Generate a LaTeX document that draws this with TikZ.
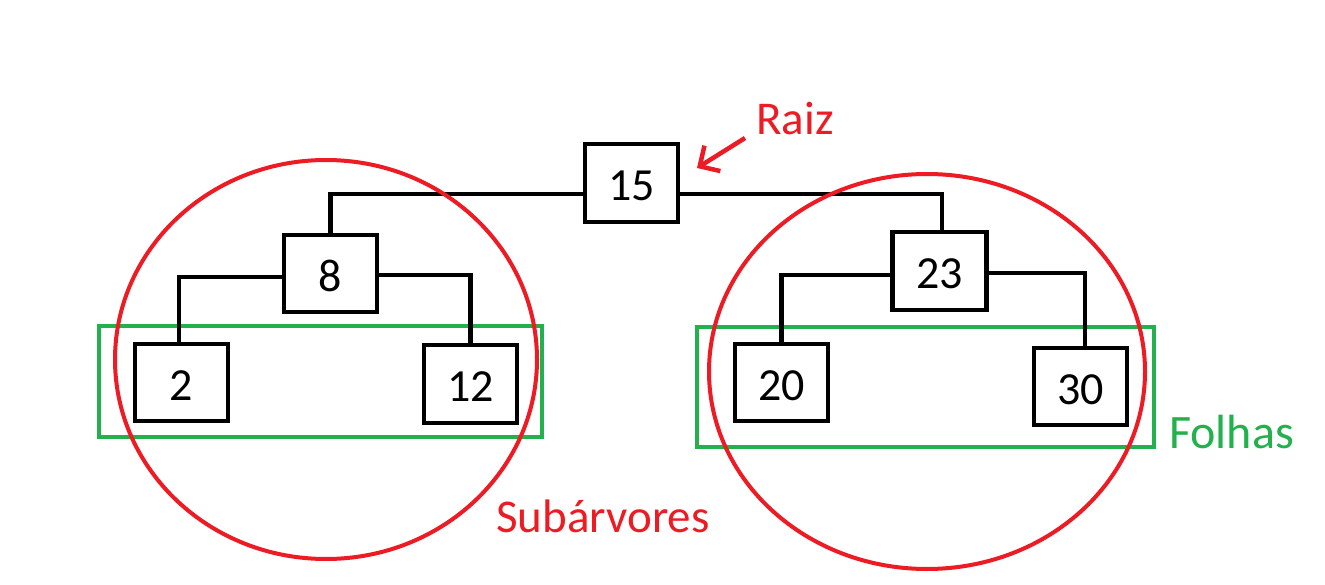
\documentclass[tikz,border=0pt]{standalone}
\usepackage{fontspec}
\setmainfont{Carlito}
\usetikzlibrary{arrows.meta,shapes.geometric}
\definecolor{pred}{HTML}{ED1C24}
\definecolor{pgreen}{HTML}{22B14C}
\begin{document}
\begin{tikzpicture}[x=1pt,y=-1pt,
  numbox/.style={draw=black,line width=4.5pt,inner sep=0pt,minimum width=93pt,minimum height=78pt,text height=35pt,text depth=0pt,font=\fontsize{46}{52}\selectfont},
  edge/.style={draw=black,line width=4.5pt},
  ring/.style={draw=pred,line width=4pt,ellipse,inner sep=0pt},
  leafbox/.style={draw=pgreen,line width=4.5pt,inner sep=0pt},
  lbl/.style={anchor=base west,inner sep=0pt,font=\fontsize{47}{54}\selectfont},
  pointer/.style={draw=pred,line width=4.5pt,-{Straight Barb[length=15pt,width=30pt]}}]
\useasboundingbox[fill=white] (0,0) rectangle (1325,585);
% leaf groups
\node[leafbox,minimum width=443pt,minimum height=111pt] (leavesL) at (320.5,381.5) {};
\node[leafbox,minimum width=457pt,minimum height=120pt] (leavesR) at (925.5,387) {};
% nodes
\node[numbox] (n15) at (631.5,183) {15};
\node[numbox,minimum height=77pt] (n8) at (330.5,273.5) {8};
\node[numbox,minimum height=77pt] (n2) at (181.5,382.5) {2};
\node[numbox] (n12) at (470.5,384) {12};
\node[numbox,minimum width=94pt] (n23) at (939.5,271) {23};
\node[numbox,minimum height=77pt] (n20) at (781.5,382.5) {20};
\node[numbox,minimum height=77pt] (n30) at (1080.5,386.5) {30};
% connectors
\draw[edge] ([yshift=-11pt]n15.west) -| (n8.north);
\draw[edge] ([yshift=-11pt]n15.east) -| ([xshift=2.5pt]n23.north);
\draw[edge] ([yshift=-3.5pt]n8.west) -| ([xshift=-2.5pt]n2.north);
\draw[edge] ([yshift=-1.5pt]n8.east) -| (n12.north);
\draw[edge] ([yshift=-4pt]n23.west) -| (n20.north);
\draw[edge] ([yshift=-2pt]n23.east) -| ([xshift=4.5pt]n30.north);
% subtrees
\node[ring,minimum width=422pt,minimum height=399pt] (subL) at (326,359.5) {};
\node[ring,minimum width=436pt,minimum height=395pt] (subR) at (927,371.5) {};
% labels
\node[lbl,text=pred] (raiz) at (756,135) {Raiz};
\node[lbl,text=pred] (subarv) at (496,532) {Subárvores};
\node[lbl,text=pgreen,font=\fontsize{48}{54}\selectfont] (folhas) at (1169,448) {Folhas};
\coordinate (arrtail) at (745,138);
\coordinate (arrtip) at (697,168);
\draw[pointer] (arrtail) -- (arrtip);
\end{tikzpicture}
\end{document}
